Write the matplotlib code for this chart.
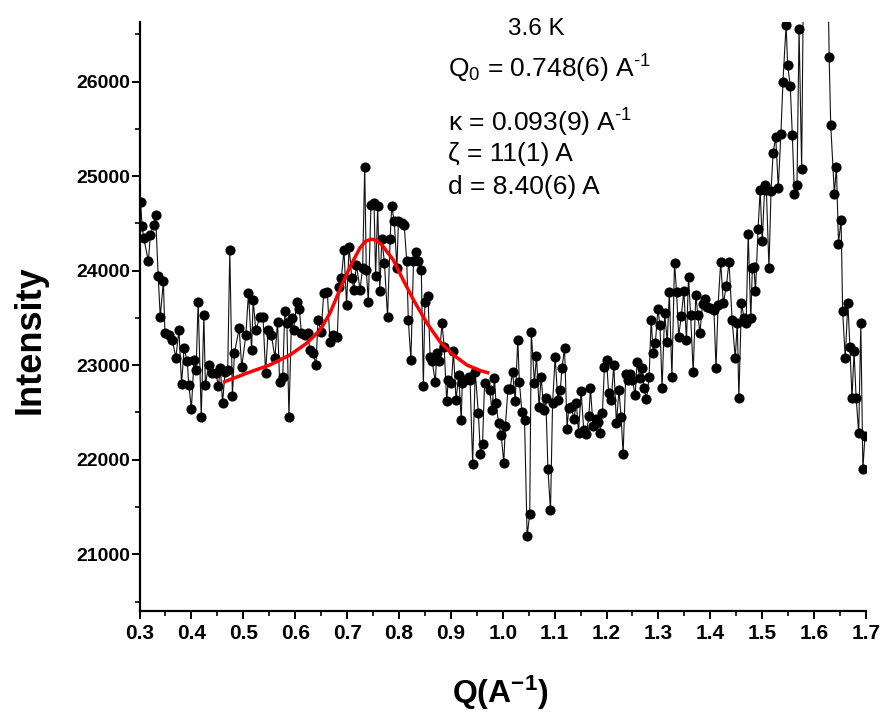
import numpy as np
import matplotlib
matplotlib.use("Agg")
import matplotlib.pyplot as plt
from matplotlib.ticker import MultipleLocator

plt.rcParams["font.family"] = ["Liberation Sans", "DejaVu Sans"]
plt.rcParams["mathtext.fontset"] = "custom"
plt.rcParams["mathtext.rm"] = "Liberation Sans"
plt.rcParams["mathtext.it"] = "Liberation Sans:italic"
plt.rcParams["mathtext.bf"] = "Liberation Sans:bold"

q = [0.302, 0.305, 0.308, 0.317, 0.321, 0.327, 0.331, 0.336, 0.340, 0.346,
     0.349, 0.357, 0.363, 0.370, 0.376, 0.381, 0.386, 0.392, 0.395, 0.400,
     0.405, 0.409, 0.413, 0.419, 0.424, 0.427, 0.433, 0.439, 0.447, 0.452,
     0.456, 0.460, 0.465, 0.470, 0.474, 0.479, 0.483, 0.492, 0.497, 0.505,
     0.510, 0.516, 0.519, 0.524, 0.532, 0.538, 0.543, 0.548, 0.554, 0.561,
     0.566, 0.570, 0.576, 0.580, 0.584, 0.588, 0.593, 0.597, 0.603, 0.608,
     0.612, 0.619, 0.625, 0.628, 0.635, 0.640, 0.644, 0.650, 0.655, 0.662,
     0.667, 0.673, 0.681, 0.685, 0.689, 0.694, 0.699, 0.704, 0.709, 0.713,
     0.718, 0.725, 0.730, 0.734, 0.737, 0.741, 0.746, 0.752, 0.755, 0.759,
     0.763, 0.767, 0.772, 0.778, 0.783, 0.786, 0.791, 0.796, 0.799, 0.805,
     0.810, 0.815, 0.818, 0.823, 0.828, 0.832, 0.837, 0.843, 0.847, 0.850,
     0.856, 0.860, 0.864, 0.870, 0.873, 0.877, 0.883, 0.887, 0.892, 0.895,
     0.901, 0.905, 0.910, 0.915, 0.920, 0.922, 0.928, 0.934, 0.937, 0.942,
     0.947, 0.953, 0.957, 0.961, 0.965, 0.975, 0.979, 0.984, 0.987, 0.992,
     0.997, 1.002, 1.005, 1.010, 1.014, 1.019, 1.024, 1.029, 1.032, 1.037,
     1.042, 1.047, 1.052, 1.055, 1.061, 1.065, 1.070, 1.074, 1.079, 1.083,
     1.087, 1.092, 1.096, 1.101, 1.106, 1.111, 1.114, 1.119, 1.124, 1.127,
     1.132, 1.137, 1.142, 1.146, 1.151, 1.156, 1.161, 1.166, 1.169, 1.174,
     1.179, 1.183, 1.187, 1.192, 1.196, 1.200, 1.204, 1.209, 1.214, 1.219,
     1.224, 1.228, 1.232, 1.237, 1.241, 1.246, 1.250, 1.255, 1.259, 1.264,
     1.269, 1.272, 1.277, 1.282, 1.286, 1.290, 1.294, 1.299, 1.303, 1.307,
     1.312, 1.317, 1.321, 1.326, 1.331, 1.335, 1.339, 1.344, 1.349, 1.354,
     1.358, 1.362, 1.367, 1.372, 1.376, 1.380, 1.385, 1.389, 1.394, 1.400,
     1.407, 1.411, 1.415, 1.420, 1.425, 1.431, 1.436, 1.442, 1.448, 1.452,
     1.455, 1.460, 1.465, 1.469, 1.473, 1.478, 1.481, 1.484, 1.487, 1.492,
     1.496, 1.500, 1.505, 1.508, 1.513, 1.517, 1.521, 1.526, 1.531, 1.536,
     1.540, 1.546, 1.549, 1.554, 1.558, 1.562, 1.567, 1.571, 1.576, 1.581,
     1.586, 1.591, 1.596, 1.601, 1.605, 1.610, 1.615, 1.620, 1.625, 1.629,
     1.632, 1.639, 1.643, 1.647, 1.652, 1.655, 1.660, 1.665, 1.669, 1.673,
     1.677, 1.681, 1.686, 1.690, 1.694, 1.698]

intensity = [24730, 24470, 24350, 24100, 24380, 24485, 24590, 23940, 23510, 23890,
             23340, 23320, 23270, 23080, 23370, 22800, 23180, 23040, 22790, 22540,
             23050, 22950, 23670, 22450, 23530, 22790, 23000, 22920, 22920, 22780,
             22970, 22600, 22930, 22950, 24220, 22670, 23130, 23390, 22980, 23320,
             23765, 23160, 23690, 23370, 23510, 23510, 22920, 23370, 23320, 23080,
             23460, 22820, 22880, 23570, 23450, 22455, 23500, 23370, 23670, 23590,
             23340, 23320, 23340, 23160, 23130, 23000, 23480, 23355, 23760, 23770,
             23250, 23320, 23300, 23830, 23920, 24220, 23640, 24255, 23920, 23800,
             24060, 23800, 24030, 25100, 24010, 23670, 24690, 24715, 23940, 24680,
             23780, 24340, 24080, 23510, 24340, 24680, 24520, 24030, 24520, 24500,
             24485, 24100, 23480, 23055, 24100, 24200, 24100, 24010, 22775, 23670,
             23730, 23090, 23040, 22825, 23125, 23040, 23445, 23195, 22620, 22840,
             22810, 23145, 22630, 22895, 22420, 22810, 22840, 22880, 22840, 21960,
             22930, 22490, 22065, 22170, 22810, 22740, 22525, 22860, 22600, 22385,
             22260, 21970, 22355, 22745, 22745, 22930, 22625, 23270, 22825, 22500,
             22415, 21190, 21430, 23350, 22810, 23100, 22555, 22880, 22525, 22650,
             21905, 21465, 22595, 23090, 22630, 22740, 22965, 23180, 22330, 22545,
             22560, 22435, 22595, 22280, 22730, 22315, 22270, 22460, 22755, 22355,
             22435, 22400, 22280, 22490, 22985, 23055, 22710, 22630, 23000, 22385,
             22735, 22455, 22060, 22910, 22840, 22910, 22840, 22685, 23035, 22860,
             22965, 22755, 22640, 22870, 23480, 23125, 23230, 23590, 23425, 22755,
             23550, 23250, 23770, 22870, 24085, 23770, 23300, 23520, 23780, 23265,
             23930, 23530, 22930, 23745, 23530, 23340, 23650, 23700, 23620, 23600,
             23585, 22965, 23640, 24095, 23655, 23840, 24095, 23480, 23075, 23445,
             22650, 23660, 23495, 23445, 24390, 23495, 24025, 24035, 23780, 24440,
             24850, 24310, 24910, 24855, 24025, 24840, 25245, 25415, 24875, 25450,
             26000, 26600, 26180, 25955, 25440, 24810, 24910, 26560, 25075, 28000,
             29500, 30800, 31800, 32300, 32000, 31200, 30200, 29000, 27800, 26260,
             25545, 24815, 25100, 24285, 24540, 23570, 23075, 23660, 23195, 22650,
             23145, 22650, 22285, 23445, 21900, 22250]

# ---- fitted curve (red) ----
q_fit = [0.464, 0.506, 0.551, 0.590, 0.622, 0.648, 0.667, 0.686, 0.706, 0.725,
         0.736, 0.747, 0.757, 0.767, 0.789, 0.808, 0.828, 0.854, 0.879, 0.905,
         0.931, 0.957, 0.971]
i_fit = [22825, 22914, 23002, 23108, 23232, 23371, 23550, 23797, 24044, 24242,
         24312, 24334, 24318, 24273, 24114, 23903, 23691, 23444, 23249, 23108,
         23002, 22942, 22921]

x_ticks = [0.3, 0.4, 0.5, 0.6, 0.7, 0.8, 0.9, 1.0, 1.1, 1.2, 1.3, 1.4, 1.5, 1.6, 1.7]
y_ticks = [21000, 22000, 23000, 24000, 25000, 26000]

W, H = 881, 714
fig = plt.figure(figsize=(W / 100, H / 100), dpi=100)
ax = fig.add_axes([139.5 / W, 1 - 611 / H, (866 - 139.5) / W, (611 - 22) / H])

ax.plot(q, intensity, color="#111111", linewidth=0.8, marker="o",
        markersize=6.3, markerfacecolor="black", markeredgecolor="black")
ax.plot(q_fit, i_fit, color="red", linewidth=2.5)

ax.set_xlim(0.3, 1.7)
ax.set_ylim(20400, 26630)

ax.spines["top"].set_visible(False)
ax.spines["right"].set_visible(False)
for side in ("left", "bottom"):
    ax.spines[side].set_linewidth(1.6)

ax.set_xticks(x_ticks)
ax.set_xticklabels([f"{v:.1f}" for v in x_ticks])
ax.set_yticks(y_ticks)
ax.xaxis.set_minor_locator(MultipleLocator(0.05))
ax.yaxis.set_minor_locator(MultipleLocator(500))

ax.tick_params(axis="both", which="major", direction="out", length=5.5,
               width=1.4)
ax.tick_params(axis="both", which="minor", direction="out", length=3.5,
               width=1.2)
ax.tick_params(axis="x", which="major", labelsize=15, pad=4)
ax.tick_params(axis="y", which="major", labelsize=14, pad=1.5)
for lab in ax.get_xticklabels() + ax.get_yticklabels():
    lab.set_fontweight("bold")

fig.text(30 / W, 1 - 340 / H, "Intensity", rotation=90, ha="center",
         va="center", fontsize=26, fontweight="bold")
fig.text(500 / W, 1 - 693 / H, r"Q(A$^{\mathbf{-1}}$)", ha="center",
         va="center", fontsize=23, fontweight="bold")

# ---- annotations ----
fig.text(508 / W, 1 - 35 / H, "3.6 K", fontsize=17.5, va="baseline")
fig.text(448 / W, 1 - 78 / H, r"Q$_0$ = 0.748(6) A$^{\text{-1}}$", fontsize=19,
         va="baseline")
fig.text(448 / W, 1 - 132 / H, r"κ = 0.093(9) A$^{\text{-1}}$", fontsize=19,
         va="baseline")
fig.text(448 / W, 1 - 161 / H, "ζ = 11(1) A", fontsize=19, va="baseline")
fig.text(448 / W, 1 - 194 / H, "d = 8.40(6) A", fontsize=19, va="baseline")

fig.savefig("out.png", dpi=100)
plt.close(fig)
